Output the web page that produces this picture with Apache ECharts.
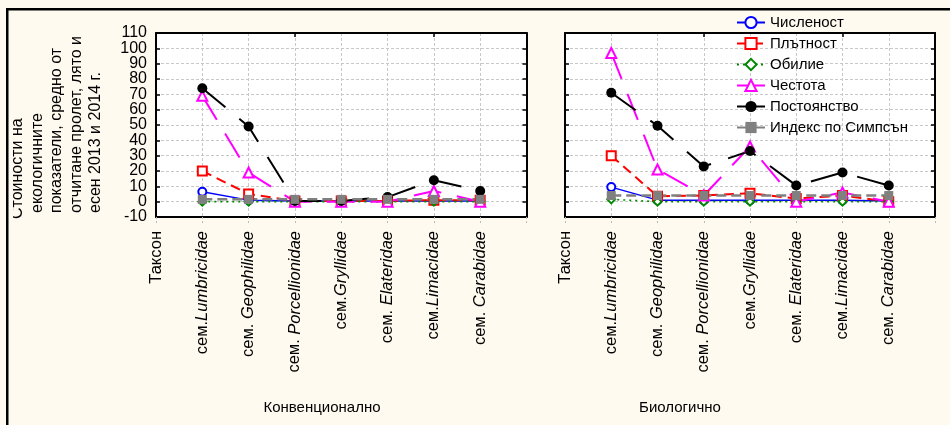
<!DOCTYPE html>
<html>
<head>
<meta charset="utf-8">
<script src="https://cdn.jsdelivr.net/npm/echarts@6/dist/echarts.min.js"></script>
<style>
  html, body { margin: 0; padding: 0; background: #fffaf0; }
  #chart { width: 950px; height: 425px; }
</style>
</head>
<body>
<div id="chart"></div>
<script>
// Categories: first slot is the axis caption "Таксон", last slot closes the frame
const taxa = ['Таксон', 'сем.Lumbricidae', 'сем. Geophilidae', 'сем. Porcellionidae',
  'сем.Gryllidae', 'сем. Elateridae', 'сем.Limacidae', 'сем. Carabidae', ''];

const seriesNames = ['Численост', 'Плътност', 'Обилие', 'Честота', 'Постоянство', 'Индекс по Симпсън'];

const yTicks = { min: -10, max: 110, step: 10 };

// Конвенционално
const chislenostConv   = [6.5, 1, 0.5, 0.5, 0.5, 0.5, 0.5];
const platnostConv     = [20, 5, 0.5, 0.5, 0.5, 1, 1];
const obilieConv       = [0, 0, 0, 0, 0, 0, 0];
const chestotaConv     = [69, 19, 0, 0, 0, 7, 0];
const postoyanstvoConv = [74, 49, 0.5, 0.5, 3, 14, 7];
const simpsonConv      = [1.5, 1.5, 1.5, 1.5, 1.5, 1.5, 1.5];

// Биологично
const chislenostBio   = [9.5, 1, 1, 1, 1, 1, 0.5];
const platnostBio     = [30, 3.5, 4, 5.5, 2, 4, 0];
const obilieBio       = [1.5, 0, 0, 0, 0, 0, 0];
const chestotaBio     = [97, 21, 4, 36, 0, 6, 0];
const postoyanstvoBio = [71, 49.5, 23, 33, 10.5, 19, 10.5];
const simpsonBio      = [4, 4, 4, 4, 4, 4, 4];

const panelTitles = ['Конвенционално', 'Биологично'];
const yTitleLines = ['Стойности на', 'екологичните', 'показатели, средно от',
  'отчитане пролет, лято и', 'есен 2013 и 2014 г.'];

const FONT = 'Liberation Sans, Arial, sans-serif';

// pad each 7-value list with empty slots for the caption and closing categories
const pad = arr => [null].concat(arr, [null]);

const styles = [
  { color: '#0000ff', symbol: 'emptyCircle', size: 8, line: { width: 1.5, type: 'solid' } },
  { color: '#ff0000', symbol: 'emptyRect', size: 9, line: { width: 2, type: [10, 6] } },
  { color: '#008800', symbol: 'emptyDiamond', size: 8, line: { width: 1.6, type: [2, 4] } },
  { color: '#ff00ff', symbol: 'emptyTriangle', size: 10, line: { width: 2, type: [28, 16] } },
  { color: '#000000', symbol: 'circle', size: 10, line: { width: 2, type: [30, 18] } },
  { color: '#808080', symbol: 'rect', size: 9, line: { width: 2.5, type: [10, 5] } }
];

const panels = [
  [chislenostConv, platnostConv, obilieConv, chestotaConv, postoyanstvoConv, simpsonConv],
  [chislenostBio, platnostBio, obilieBio, chestotaBio, postoyanstvoBio, simpsonBio]
];

const gridLine = { show: true, lineStyle: { color: '#c8c8c8', width: 1, type: [3, 2] } };
const frameLine = { show: true, onZero: false, lineStyle: { color: '#000', width: 2 } };

function labelFmt(v) {
  const m = v.match(/^(сем\.\s?)(.*)$/);
  if (m) return '{r|' + m[1] + '}{i|' + m[2] + '}';
  return '{r|' + v + '}';
}

const grids = [
  { left: 156, top: 33, width: 370.5, height: 184, show: true, backgroundColor: '#fff', borderWidth: 0 },
  { left: 565, top: 33, width: 370, height: 184, show: true, backgroundColor: '#fff', borderWidth: 0 }
];

const tickLabelStyle = { margin: 9, color: '#000', fontFamily: FONT, fontSize: 16 };

const xAxes = [];
const yAxes = [];
grids.forEach((g, gi) => {
  xAxes.push({
    type: 'category', gridIndex: gi, position: 'bottom', data: taxa, boundaryGap: false,
    axisLine: frameLine,
    axisTick: { show: true, inside: false, length: 6, lineStyle: { color: '#bbbbbb', type: [2, 2] } },
    axisLabel: {
      interval: 0, rotate: 90, margin: 14, color: '#000', fontFamily: FONT, fontSize: 16.5,
      formatter: labelFmt,
      rich: {
        r: { fontFamily: FONT, fontSize: 16.5, color: '#000' },
        i: { fontFamily: FONT, fontSize: 16.5, fontStyle: 'italic', color: '#000' }
      }
    },
    splitLine: gridLine
  });
  xAxes.push({
    type: 'category', gridIndex: gi, position: 'top', data: taxa, boundaryGap: false,
    axisLine: frameLine,
    axisTick: { show: true, inside: true, length: 4, lineStyle: { color: '#000', width: 1.5 } },
    axisLabel: { show: false }, splitLine: { show: false }
  });
  yAxes.push({
    type: 'value', gridIndex: gi, position: 'left',
    min: yTicks.min, max: yTicks.max, interval: yTicks.step,
    axisLine: frameLine,
    axisTick: { show: true, inside: true, length: 4, lineStyle: { color: '#000', width: 1.5 } },
    axisLabel: Object.assign({ show: gi === 0, showMinLabel: false, showMaxLabel: false }, tickLabelStyle),
    splitLine: gridLine
  });
  yAxes.push({
    type: 'value', gridIndex: gi, position: 'right',
    min: yTicks.min, max: yTicks.max, interval: yTicks.step,
    axisLine: frameLine,
    axisTick: { show: true, inside: true, length: 4, lineStyle: { color: '#000', width: 1.5 } },
    axisLabel: { show: false }, splitLine: { show: false }
  });
});
// companion left axis carrying only the end labels (-10 and 110) of the first panel
yAxes.push({
  type: 'value', gridIndex: 0, position: 'left',
  min: yTicks.min, max: yTicks.max, interval: yTicks.step,
  axisLine: { show: false }, axisTick: { show: false }, splitLine: { show: false },
  axisLabel: Object.assign({
    show: true, showMinLabel: true, showMaxLabel: true,
    formatter: v => (v === yTicks.min || v === yTicks.max) ? String(v) : ''
  }, tickLabelStyle)
});

const series = [];
panels.forEach((lists, gi) => {
  lists.forEach((vals, si) => {
    const st = styles[si];
    series.push({
      type: 'line', name: seriesNames[si],
      xAxisIndex: gi * 2, yAxisIndex: gi * 2,
      data: pad(vals),
      symbol: st.symbol, symbolSize: st.size, showAllSymbol: true,
      itemStyle: { color: st.color, borderWidth: 1.3 },
      lineStyle: Object.assign({ color: st.color }, st.line),
      emphasis: { disabled: true },
      animation: false
    });
  });
});

const graphic = [];
// y-axis caption, rotated, one element per line
yTitleLines.forEach((t, i) => {
  graphic.push({
    type: 'text', x: 18 + i * 19.5, y: i === 0 ? 219 : 213, rotation: Math.PI / 2,
    style: { text: t, font: '16px ' + FONT, fill: '#000', textAlign: 'left', textVerticalAlign: 'middle' }
  });
});
// margin strip that trims the first caption line
graphic.push({ type: 'rect', shape: { x: 0, y: 0, width: 13, height: 425 }, style: { fill: '#fffaf0' } });
// outer frame: top and left rules
graphic.push({ type: 'rect', shape: { x: 6, y: 8, width: 944, height: 2.5 }, style: { fill: '#000' } });
graphic.push({ type: 'rect', shape: { x: 6, y: 8, width: 2.5, height: 417 }, style: { fill: '#000' } });
// panel captions
graphic.push({ type: 'text', x: 322, y: 408, style: { text: panelTitles[0], font: '15px ' + FONT, fill: '#000', textAlign: 'center', textVerticalAlign: 'middle' } });
graphic.push({ type: 'text', x: 680, y: 408, style: { text: panelTitles[1], font: '15px ' + FONT, fill: '#000', textAlign: 'center', textVerticalAlign: 'middle' } });

const option = {
  backgroundColor: '#fffaf0',
  animation: false,
  grid: grids,
  xAxis: xAxes,
  yAxis: yAxes,
  legend: {
    orient: 'vertical', left: 736, top: 15, padding: 0,
    itemWidth: 28, itemHeight: 14, itemGap: 6,
    backgroundColor: 'transparent',
    textStyle: { fontFamily: FONT, fontSize: 15, color: '#000' },
    data: seriesNames.map((n, i) => ({
      name: n,
      lineStyle: { type: (i === 1 || i === 2) ? styles[i].line.type : 'solid' }
    }))
  },
  series: series,
  graphic: graphic
};

const chart = echarts.init(document.getElementById('chart'), null, { renderer: 'canvas' });
chart.setOption(option);
</script>
</body>
</html>
